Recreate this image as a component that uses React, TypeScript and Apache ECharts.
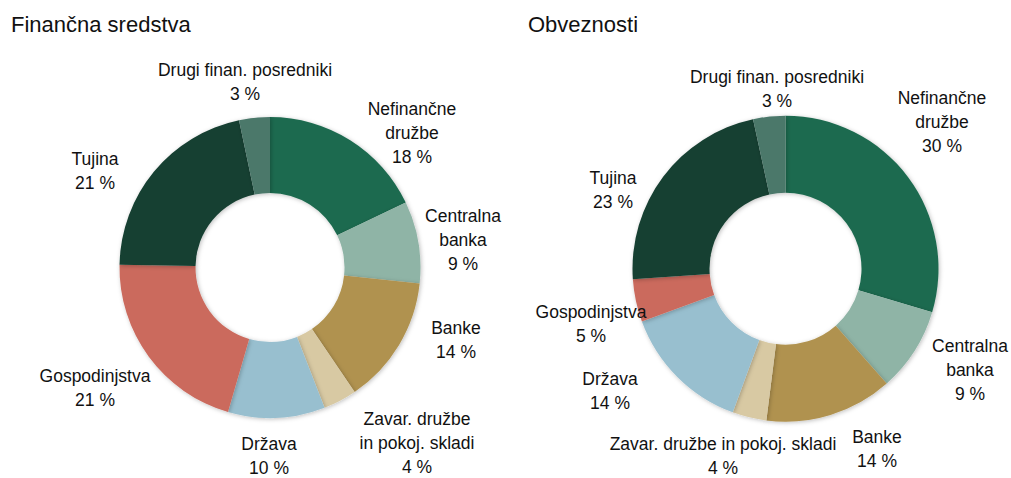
import React, { useEffect, useRef } from "react";
import * as echarts from "echarts";

const CATEGORIES = [
  "Nefinančne družbe",
  "Centralna banka",
  "Banke",
  "Zavar. družbe in pokoj. skladi",
  "Država",
  "Gospodinjstva",
  "Tujina",
  "Drugi finan. posredniki",
];
const COLORS = ["#1f6b50", "#8fb4a6", "#b0924f", "#d8c9a3", "#98bfcf", "#cb6a5d", "#163f31", "#4b786b"];

const ASSETS = [17.9, 8.8, 13.8, 3.6, 10.4, 20.8, 21.4, 3.3];
const LIABILITIES = [29.6, 8.9, 13.5, 3.6, 13.8, 4.5, 22.7, 3.4];

const TITLES = ["Finančna sredstva", "Obveznosti"];

// label text (with line breaks) per chart
const LABELS_LEFT = [
  "Nefinančne\ndružbe",
  "Centralna\nbanka",
  "Banke",
  "Zavar. družbe\nin pokoj. skladi",
  "Država",
  "Gospodinjstva",
  "Tujina",
  "Drugi finan. posredniki",
];
const LABELS_RIGHT = [
  "Nefinančne\ndružbe",
  "Centralna\nbanka",
  "Banke",
  "Zavar. družbe in pokoj. skladi",
  "Država",
  "Gospodinjstva",
  "Tujina",
  "Drugi finan. posredniki",
];

// label anchor centres (layout, not data)
const LABEL_POS_LEFT = [
  [412, 133], [463, 240], [456, 340], [417, 443], [269, 456], [95, 388], [95, 171], [245, 82],
];
const LABEL_POS_RIGHT = [
  [942, 122], [970, 370], [877, 449], [723, 456], [610, 391], [591, 324], [613, 190], [777, 89],
];

const FONT = "Liberation Sans, Arial, sans-serif";

export default function App() {
  const ref = useRef<HTMLDivElement>(null);
  useEffect(() => {
    const chart = echarts.init(ref.current!, null, { renderer: "svg" });
    const mkSeries = (
      values: number[],
      labels: string[],
      pos: number[][],
      center: number[],
      radius: number[]
    ) => ({
      type: "pie",
      center,
      radius,
      startAngle: 90,
      clockwise: true,
      avoidLabelOverlap: false,
      data: values.map((v, i) => ({
        name: CATEGORIES[i],
        value: v,
        itemStyle: { color: COLORS[i] },
      })),
      itemStyle: {
        borderWidth: 0,
        shadowBlur: 4,
        shadowColor: "rgba(0,0,0,0.25)",
        shadowOffsetX: 1,
        shadowOffsetY: 1,
      },
      label: {
        show: true,
        position: "outside",
        formatter: (p: any) => `${labels[p.dataIndex]}\n${Math.round(p.value)} %`,
        fontFamily: FONT,
        fontSize: 17.5,
        lineHeight: 24,
        color: "#111",
        align: "center",
      },
      labelLine: { show: false },
      labelLayout: (p: any) => ({
        x: pos[p.dataIndex][0],
        y: pos[p.dataIndex][1],
        align: "center",
        verticalAlign: "middle",
      }),
      emphasis: { disabled: true },
    });
    chart.setOption({
      animation: false,
      backgroundColor: "#ffffff",
      title: [
        {
          text: TITLES[0],
          left: 11,
          top: 13,
          padding: 0,
          textStyle: { fontFamily: FONT, fontSize: 22, fontWeight: "normal", color: "#111" },
        },
        {
          text: TITLES[1],
          left: 528,
          top: 13,
          padding: 0,
          textStyle: { fontFamily: FONT, fontSize: 22, fontWeight: "normal", color: "#111" },
        },
      ],
      series: [
        mkSeries(ASSETS, LABELS_LEFT, LABEL_POS_LEFT, [270, 267.5], [74.5, 150.5]),
        mkSeries(LIABILITIES, LABELS_RIGHT, LABEL_POS_RIGHT, [785.5, 268.7], [76, 153]),
      ],
    });
    return () => chart.dispose();
  }, []);
  return (
    <div
      ref={ref}
      style={{ position: "fixed", left: 0, top: 0, width: 1011, height: 478, background: "#fff" }}
    />
  );
}
